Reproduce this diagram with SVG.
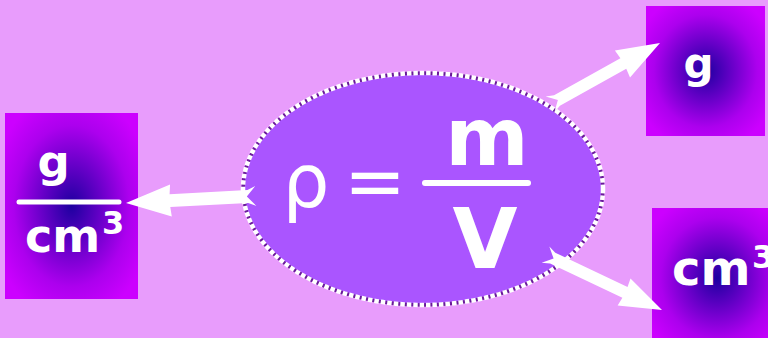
<svg xmlns="http://www.w3.org/2000/svg" width="768" height="338" viewBox="0 0 768 338">
<defs>
<radialGradient id="bx" cx="50%" cy="50%" r="62%">
<stop offset="0" stop-color="#1e00a0"/>
<stop offset="0.7" stop-color="#ac00ee"/>
<stop offset="1" stop-color="#cc00ff"/>
</radialGradient>
<style>
.box{fill:url(#bx);}
.t{font-family:"DejaVu Sans",sans-serif;fill:#fff;}
.b{font-weight:bold;}
.arr{fill:#fff;}
</style>
</defs>
<rect width="768" height="338" fill="#e89cfc"/>
<g id="density">
<rect class="box" x="5" y="113" width="133" height="186"/>
<text class="t b" x="53.5" y="177" font-size="45" text-anchor="middle">g</text>
<line x1="19" y1="202" x2="119" y2="202" stroke="#fff" stroke-width="5" stroke-linecap="round"/>
<text class="t b" x="25" y="252" font-size="46">cm</text>
<text class="t b" x="102" y="234" font-size="32">3</text>
</g>
<g id="mass">
<rect class="box" x="646" y="6" width="119" height="130"/>
<text class="t b" x="698.5" y="78" font-size="42" text-anchor="middle">g</text>
</g>
<g id="volume">
<rect class="box" x="652" y="208" width="130" height="140"/>
<text class="t b" x="672" y="285" font-size="48">cm</text>
<text class="t b" x="752" y="268" font-size="32">3</text>
</g>
<g id="formula">
<ellipse cx="423" cy="189" rx="180" ry="116" fill="#aa55ff" stroke="#6a1a9a" stroke-width="3.5"/>
<ellipse cx="423" cy="189" rx="180" ry="116" fill="none" stroke="#fff" stroke-width="4.5" stroke-dasharray="4.5 2"/>
<text class="t" x="306" y="207" font-size="74" text-anchor="middle">ρ</text>
<text class="t" x="375" y="207" font-size="74" text-anchor="middle">=</text>
<line x1="425" y1="183" x2="528" y2="183" stroke="#fff" stroke-width="6" stroke-linecap="round"/>
<text class="t b" x="487" y="165" font-size="80" text-anchor="middle">m</text>
<text class="t b" x="485" y="268" font-size="84" text-anchor="middle">V</text>
</g>
<g id="connectors">
<path class="arr" transform="translate(126,203) rotate(176.9)" d="M0 0 L-45 -16 L-44 -6.5 L-122 -6.5 L-130 -10 L-121 0 L-130 10 L-122 6.5 L-44 6.5 L-45 16 Z"/>
<path class="arr" transform="translate(660,43) rotate(-29.2)" d="M0 0 L-43 -15.5 L-42 -6 L-118 -6 L-126 -9 L-117 0 L-126 9 L-118 6 L-42 6 L-43 15.5 Z"/>
<path class="arr" transform="translate(662,310) rotate(25.4)" d="M0 0 L-42 -15 L-41 -6 L-121 -6 L-129 -9 L-120 0 L-129 9 L-121 6 L-41 6 L-42 15 Z"/>
</g>
</svg>
